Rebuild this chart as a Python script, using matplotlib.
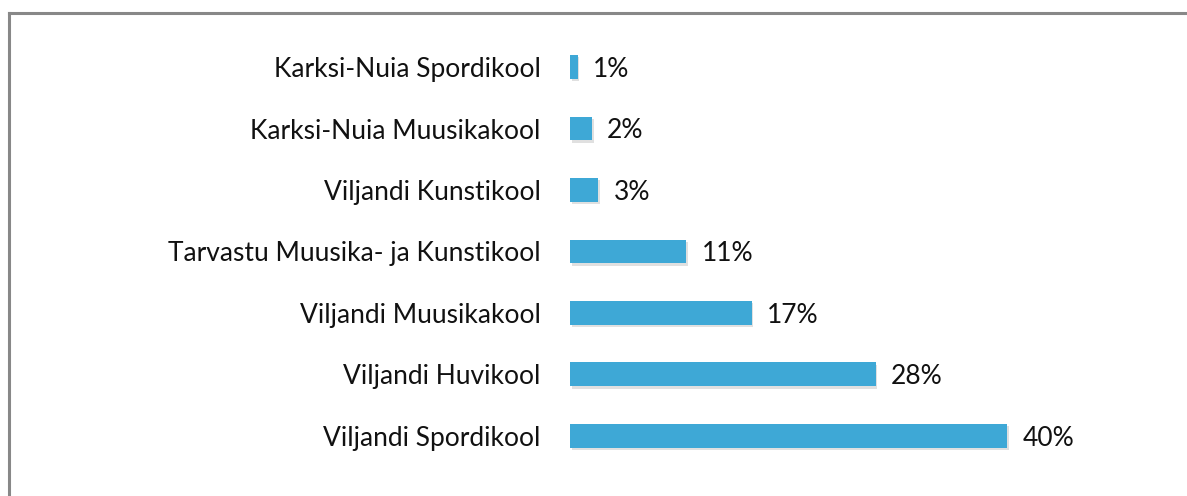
import matplotlib.pyplot as plt
from matplotlib.lines import Line2D

# data (bottom to top)
schools = ['Viljandi Spordikool', 'Viljandi Huvikool', 'Viljandi Muusikakool',
           'Tarvastu Muusika- ja Kunstikool', 'Viljandi Kunstikool',
           'Karksi-Nuia Muusikakool', 'Karksi-Nuia Spordikool']
shares = [39.9, 27.9, 16.6, 10.6, 2.6, 2.0, 0.7]
share_labels = ['40%', '28%', '17%', '11%', '3%', '2%', '1%']

bar_color = '#3EA8D6'
plt.rcParams['font.family'] = ['Lato', 'DejaVu Sans']
fsize = 19

fig = plt.figure(figsize=(11.87, 4.96), dpi=100)
ax = fig.add_axes([570 / 1187, 0.0590, 547.5 / 1187, 0.8679])

ypos = list(range(len(schools)))
# soft shadow under the bars
ax.barh([y - 0.04 for y in ypos], shares, height=0.39, left=0.15,
        color='#999999', alpha=0.3, zorder=1)
ax.barh(ypos, shares, height=0.39, color=bar_color, zorder=2)

for y, v, lab in zip(ypos, shares, share_labels):
    ax.text(v + 1.4, y - 0.04, lab, va='center', ha='left', fontsize=fsize, color='#111111')

ax.set_xlim(0, 50)
ax.set_ylim(-0.5, 6.5)
ax.set_yticks(ypos)
ax.set_yticklabels(schools, fontsize=fsize, color='#111111')
ax.tick_params(axis='y', length=0, pad=21)
ax.set_xticks([])
for s in ax.spines.values():
    s.set_visible(False)

# outer frame (top and left edges only visible)
fig.add_artist(Line2D([9.5 / 1187, 1.0], [1 - 13 / 496, 1 - 13 / 496],
                      transform=fig.transFigure, color='#888888', lw=2.2))
fig.add_artist(Line2D([9.5 / 1187, 9.5 / 1187], [0, 1 - 13 / 496],
                      transform=fig.transFigure, color='#888888', lw=2.2))

fig.savefig('out.png', dpi=100)
